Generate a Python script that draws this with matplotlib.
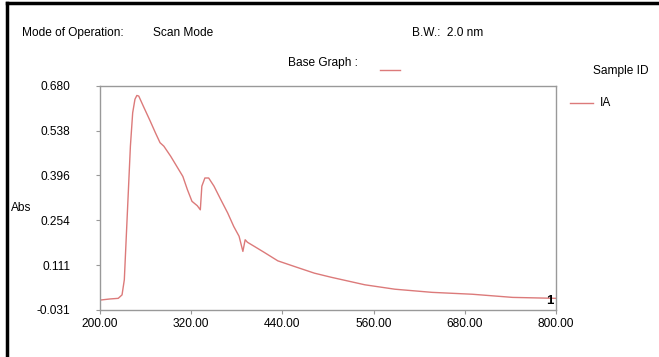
import matplotlib
matplotlib.use("Agg")
import matplotlib.pyplot as plt
from matplotlib.lines import Line2D

plt.rcParams['font.family'] = ['Liberation Sans', 'DejaVu Sans']

wavelength = [202, 213, 224, 229, 232, 235, 240, 243, 246, 248.5, 251, 257, 266, 273, 279, 284,
              293, 301, 309, 315, 321, 328, 332, 334, 338, 343, 350, 359, 368, 376, 383, 388,
              391, 394, 403, 416, 434, 456, 482, 504, 548.5, 588, 637, 690, 743, 800]
absorbance = [0.001, 0.004, 0.006, 0.017, 0.065, 0.224, 0.489, 0.595, 0.638, 0.650, 0.648, 0.616,
              0.569, 0.531, 0.500, 0.489, 0.457, 0.425, 0.393, 0.351, 0.314, 0.300, 0.287, 0.362,
              0.388, 0.388, 0.362, 0.319, 0.277, 0.234, 0.203, 0.155, 0.192, 0.184, 0.171, 0.152,
              0.125, 0.107, 0.086, 0.073, 0.049, 0.035, 0.025, 0.019, 0.009, 0.006]
x_ticks = [200, 320, 440, 560, 680, 800]
x_tick_labels = ["200.00", "320.00", "440.00", "560.00", "680.00", "800.00"]
y_ticks = [-0.031, 0.111, 0.254, 0.396, 0.538, 0.680]
y_tick_labels = ["-0.031", "0.111", "0.254", "0.396", "0.538", "0.680"]

W, H = 659, 357
fig = plt.figure(figsize=(W / 100, H / 100), dpi=100)
fig.patch.set_facecolor('white')

curve_color = '#dc7a7a'
axis_color = '#999999'
fs = 8.6

ax = fig.add_axes([100 / W, 1 - 310 / H, 456 / W, 224 / H])
ax.plot(wavelength, absorbance, color=curve_color, lw=1.0)
ax.set_xlim(200, 800)
ax.set_ylim(-0.031, 0.680)
ax.set_xticks(x_ticks)
ax.set_xticklabels(x_tick_labels, fontsize=fs)
ax.set_yticks(y_ticks)
ax.set_yticklabels(y_tick_labels, fontsize=fs)
for s in ax.spines.values():
    s.set_color(axis_color)
    s.set_linewidth(1.0)
ax.tick_params(axis='both', colors=axis_color, labelcolor='black', length=3, width=0.8)
ax.tick_params(axis='y', pad=18.5)
ax.tick_params(axis='x', pad=2.5)
ax.text(0.995, 0.015, "1", transform=ax.transAxes, ha='right', va='bottom',
        fontsize=9.5, fontweight='bold', color='black')

# outer frame (left & top)
fig.add_artist(Line2D([7 / W, 7 / W], [0, 1 - 3 / H], transform=fig.transFigure, color='black', lw=2.5))
fig.add_artist(Line2D([7 / W, 1], [1 - 3 / H, 1 - 3 / H], transform=fig.transFigure, color='black', lw=2.5))

def ftext(x, y, s, **kw):
    fig.text(x / W, 1 - y / H, s, fontsize=fs, va='center', **kw)

ftext(22, 33, "Mode of Operation:")
ftext(153, 33, "Scan Mode")
ftext(412, 33, "B.W.:  2.0 nm")
ftext(288, 63, "Base Graph :")
fig.add_artist(Line2D([380 / W, 400 / W], [1 - 70 / H, 1 - 70 / H], transform=fig.transFigure, color=curve_color, lw=1.0))
ftext(593, 71, "Sample ID")
fig.add_artist(Line2D([570 / W, 593 / W], [1 - 103 / H, 1 - 103 / H], transform=fig.transFigure, color=curve_color, lw=1.0))
ftext(600, 103, "IA")
ftext(11, 208, "Abs")

fig.savefig("out.png", dpi=100)
